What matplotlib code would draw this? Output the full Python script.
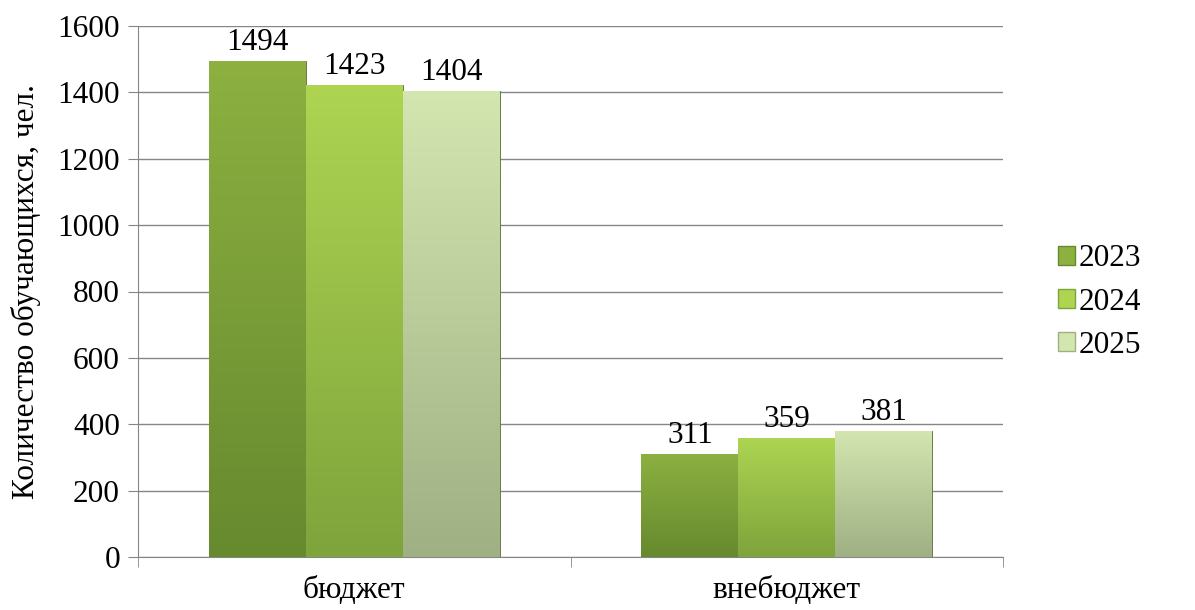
import numpy as np
import matplotlib
matplotlib.use("Agg")
import matplotlib.pyplot as plt
from matplotlib.colors import LinearSegmentedColormap
from matplotlib.patches import Patch

categories = ["бюджет", "внебюджет"]
years = ["2023", "2024", "2025"]
values_2023 = [1494, 311]
values_2024 = [1423, 359]
values_2025 = [1404, 381]

# top, bottom colour of each series gradient
grad = [("#8db041", "#668a2e"),
        ("#aed452", "#7ea43c"),
        ("#d3e6b0", "#9fb083")]

plt.rcParams['font.family'] = ['Liberation Serif', 'DejaVu Serif']
FS = 22.5

fig = plt.figure(figsize=(11.95, 6.1), dpi=100)
ax = fig.add_axes([138/1195, 1 - 557/610, (1003-138)/1195, (557-26)/610])

x = np.arange(len(categories))
w = 0.224
series = [values_2023, values_2024, values_2025]
for i, vals in enumerate(series):
    offs = (i - 1) * w
    bars = ax.bar(x + offs, vals, w, color=grad[i][1], edgecolor="#5c6e3a",
                  linewidth=0.6, zorder=3, label=years[i])
    cmap = LinearSegmentedColormap.from_list("g%d" % i, [grad[i][1], grad[i][0]])
    for b, v in zip(bars, vals):
        im = ax.imshow(np.linspace(0, 1, 100).reshape(-1, 1), cmap=cmap,
                       origin="lower", aspect="auto",
                       extent=[b.get_x(), b.get_x() + b.get_width(), 0, v],
                       zorder=3.5)
        im.set_clip_path(b)
        ax.text(b.get_x() + b.get_width() / 2, v + 12, str(v), ha="center",
                va="bottom", fontsize=FS)

ax.set_xlim(-0.5, 1.5)
ax.set_ylim(0, 1600)
ax.set_aspect("auto")
ax.set_yticks(range(0, 1601, 200))
ax.set_xticks(x)
ax.set_xticklabels(categories)
ax.set_xticks([-0.5, 0.5, 1.5], minor=True)
ax.tick_params(axis="x", which="major", length=0, labelsize=FS, pad=14)
ax.tick_params(axis="x", which="minor", length=7, color="#868686")
ax.tick_params(axis="y", length=7, color="#868686", labelsize=FS, pad=6)
ax.yaxis.grid(True, color="#868686", linewidth=1, zorder=0)
for s in ["top", "right"]:
    ax.spines[s].set_visible(False)
for s in ["left", "bottom"]:
    ax.spines[s].set_color("#868686")
ax.set_ylabel("Количество обучающихся, чел.", fontsize=FS, labelpad=12)

handles = [Patch(facecolor=grad[i][0], edgecolor=grad[i][1]) for i in range(3)]
fig.legend(handles, years, loc="center left", bbox_to_anchor=(1030/1195, 1 - 302/610),
           frameon=False, fontsize=FS, handlelength=0.55, handleheight=0.55,
           handletextpad=0.1, labelspacing=0.45)

fig.savefig("out.png", dpi=100)
